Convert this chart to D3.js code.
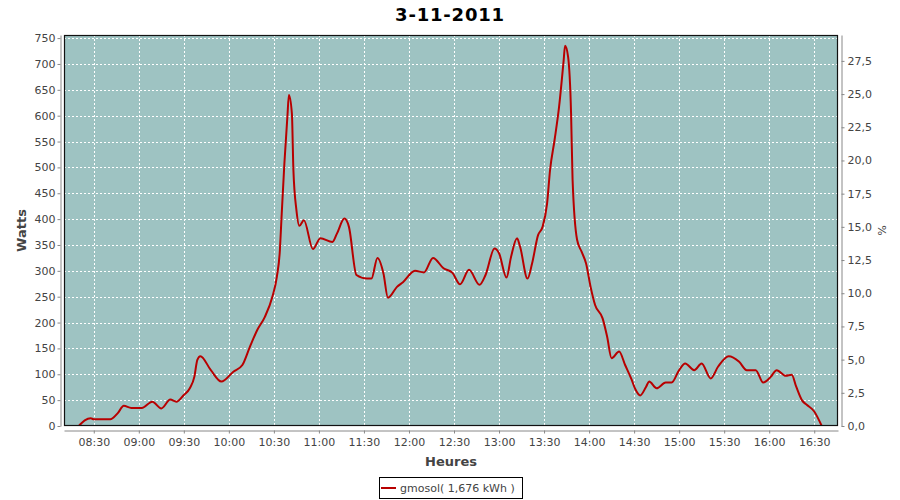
<!DOCTYPE html>
<html><head><meta charset="utf-8">
<script src="https://cdn.jsdelivr.net/npm/d3@7/dist/d3.min.js"></script>
<style>
body{margin:0;background:#fff}
svg{display:block}
text{font-family:"DejaVu Sans",sans-serif}
</style>
</head><body>
<svg id="c" width="900" height="500"></svg>
<script>
const chartTitle = "3-11-2011";
const xLabel = "Heures";
const yLabelLeft = "Watts";
const yLabelRight = "%";
const legendLabel = "gmosol( 1,676 kWh )";

const times = ["08:20","08:24","08:28","08:30","08:41","08:46","08:50","08:55","09:02","09:09","09:15","09:21","09:25","09:30","09:34","09:37","09:39","09:41","09:48","09:55","10:03","10:09","10:14","10:19","10:24","10:29","10:32","10:34","10:35","10:37","10:39","10:40","10:42","10:43","10:45","10:47","10:50","10:56","11:01","11:09","11:12","11:17","11:20","11:25","11:32","11:35","11:39","11:43","11:46","11:52","11:56","12:04","12:10","12:16","12:23","12:29","12:34","12:40","12:47","12:51","12:57","13:00","13:05","13:08","13:12","13:14","13:19","13:22","13:26","13:29","13:32","13:34","13:37","13:40","13:43","13:44","13:46","13:48","13:49","13:52","13:55","13:58","14:01","14:04","14:09","14:12","14:15","14:20","14:24","14:28","14:31","14:34","14:38","14:40","14:45","14:51","14:55","15:00","15:04","15:10","15:15","15:21","15:26","15:33","15:40","15:45","15:51","15:56","16:01","16:05","16:11","16:15","16:18","16:22","16:25","16:30","16:35"];
const watts = [0,11,15,13,13,25,39,35,35,47,34,51,47,60,73,95,128,135,108,86,105,118,153,186,211,250,289,340,398,508,598,640,604,495,418,387,398,342,363,356,372,401,385,292,285,285,325,295,248,269,278,300,297,325,305,296,274,302,273,292,343,334,287,327,363,347,285,314,369,385,430,495,553,617,705,735,714,604,476,360,337,314,269,234,208,173,131,144,118,92,70,59,76,86,73,84,84,108,121,108,121,92,115,135,124,108,108,84,95,108,97,99,76,49,41,28,0];

const xDomain = ["08:10:10","16:45:50"];
const xTickLabels = ["08:30","09:00","09:30","10:00","10:30","11:00","11:30","12:00","12:30","13:00","13:30","14:00","14:30","15:00","15:30","16:00","16:30"];
const yDomainLeft = [0, 756];
const yTicksLeft = [0,50,100,150,200,250,300,350,400,450,500,550,600,650,700,750];
const yDomainRight = [0, 29.45];
const yTicksRight = [0,2.5,5,7.5,10,12.5,15,17.5,20,22.5,25,27.5];

const svg = d3.select("#c");
const L = 64, R = 838, T = 35, B = 426;
const parseHM = d3.timeParse("%H:%M");
const parseHMS = d3.timeParse("%H:%M:%S");
const fmtHM = d3.timeFormat("%H:%M");

const x = d3.scaleTime().domain(xDomain.map(parseHMS)).range([L, R]);
const y = d3.scaleLinear().domain(yDomainLeft).range([B, T]);
const y2 = d3.scaleLinear().domain(yDomainRight).range([B, T]);

const data = times.map((t, i) => ({t: parseHM(t), v: watts[i]}));
const xTicks = xTickLabels.map(parseHM);

// title
svg.append("text").attr("x", 450).attr("y", 21).attr("text-anchor", "middle")
  .attr("font-size", 18).attr("font-weight", "bold").attr("letter-spacing", 0.8)
  .attr("fill", "#000").text(chartTitle);

// plot background
svg.append("rect").attr("x", L).attr("y", T).attr("width", R - L).attr("height", B - T)
  .attr("fill", "#9ec3c2");

// grid
const grid = svg.append("g").attr("stroke", "#fff").attr("stroke-width", 1).attr("stroke-dasharray", "2,2");
yTicksLeft.filter(v => v > 0).forEach(v => {
  const yy = Math.round(y(v)) + 0.5;
  grid.append("line").attr("x1", L).attr("x2", R).attr("y1", yy).attr("y2", yy);
});
xTicks.forEach(t => {
  const xx = Math.round(x(t)) + 0.5;
  grid.append("line").attr("x1", xx).attr("x2", xx).attr("y1", T).attr("y2", B);
});

// clip + line
svg.append("clipPath").attr("id", "clip").append("rect")
  .attr("x", L).attr("y", T).attr("width", R - L).attr("height", B - T);
const line = d3.line().x(d => x(d.t)).y(d => y(d.v)).curve(d3.curveMonotoneX);
svg.append("path").datum(data).attr("clip-path", "url(#clip)")
  .attr("fill", "none").attr("stroke", "#b80000").attr("stroke-width", 2)
  .attr("stroke-linejoin", "round").attr("d", line);

// plot outline
svg.append("rect").attr("x", L + 0.5).attr("y", T + 0.5).attr("width", R - L - 1).attr("height", B - T - 1)
  .attr("fill", "none").attr("stroke", "#111").attr("stroke-width", 1.2);

function styleAxis(g) {
  g.selectAll("path").attr("stroke", "#888");
  g.selectAll("line").attr("stroke", "#888");
  g.selectAll("text").attr("fill", "#444").attr("font-size", 11).attr("font-family", "DejaVu Sans");
}

// left axis
const gl = svg.append("g").attr("transform", "translate(60.5,0)")
  .call(d3.axisLeft(y).tickValues(yTicksLeft).tickFormat(d3.format("d")).tickSize(3).tickSizeOuter(0).tickPadding(2));
styleAxis(gl);

// right axis
const fmtR = v => d3.format(".1f")(v).replace(".", ",");
const gr = svg.append("g").attr("transform", "translate(841.5,0)")
  .call(d3.axisRight(y2).tickValues(yTicksRight).tickFormat(fmtR).tickSize(3).tickSizeOuter(0).tickPadding(3));
styleAxis(gr);

// bottom axis
const gb = svg.append("g").attr("transform", "translate(0,430.5)")
  .call(d3.axisBottom(x).tickValues(xTicks).tickFormat(fmtHM).tickSize(3).tickSizeOuter(0).tickPadding(5));
styleAxis(gb);

// axis labels
svg.append("text").attr("transform", `translate(26,${(T + B) / 2}) rotate(-90)`)
  .attr("text-anchor", "middle").attr("font-size", 13).attr("font-weight", "bold")
  .attr("fill", "#444").text(yLabelLeft);
svg.append("text").attr("transform", `translate(878,${(T + B) / 2}) rotate(90)`)
  .attr("text-anchor", "middle").attr("font-size", 11)
  .attr("fill", "#444").text(yLabelRight);
svg.append("text").attr("x", (L + R) / 2).attr("y", 466)
  .attr("text-anchor", "middle").attr("font-size", 13).attr("font-weight", "bold")
  .attr("fill", "#444").text(xLabel);

// legend
const lg = svg.append("g");
lg.append("rect").attr("x", 379.5).attr("y", 477.5).attr("width", 143).attr("height", 21)
  .attr("fill", "#fff").attr("stroke", "#000").attr("stroke-width", 1);
lg.append("line").attr("x1", 381).attr("x2", 396).attr("y1", 488).attr("y2", 488)
  .attr("stroke", "#b80000").attr("stroke-width", 2);
lg.append("text").attr("x", 400).attr("y", 492).attr("font-size", 11).attr("fill", "#444")
  .text(legendLabel);
</script>
</body></html>
